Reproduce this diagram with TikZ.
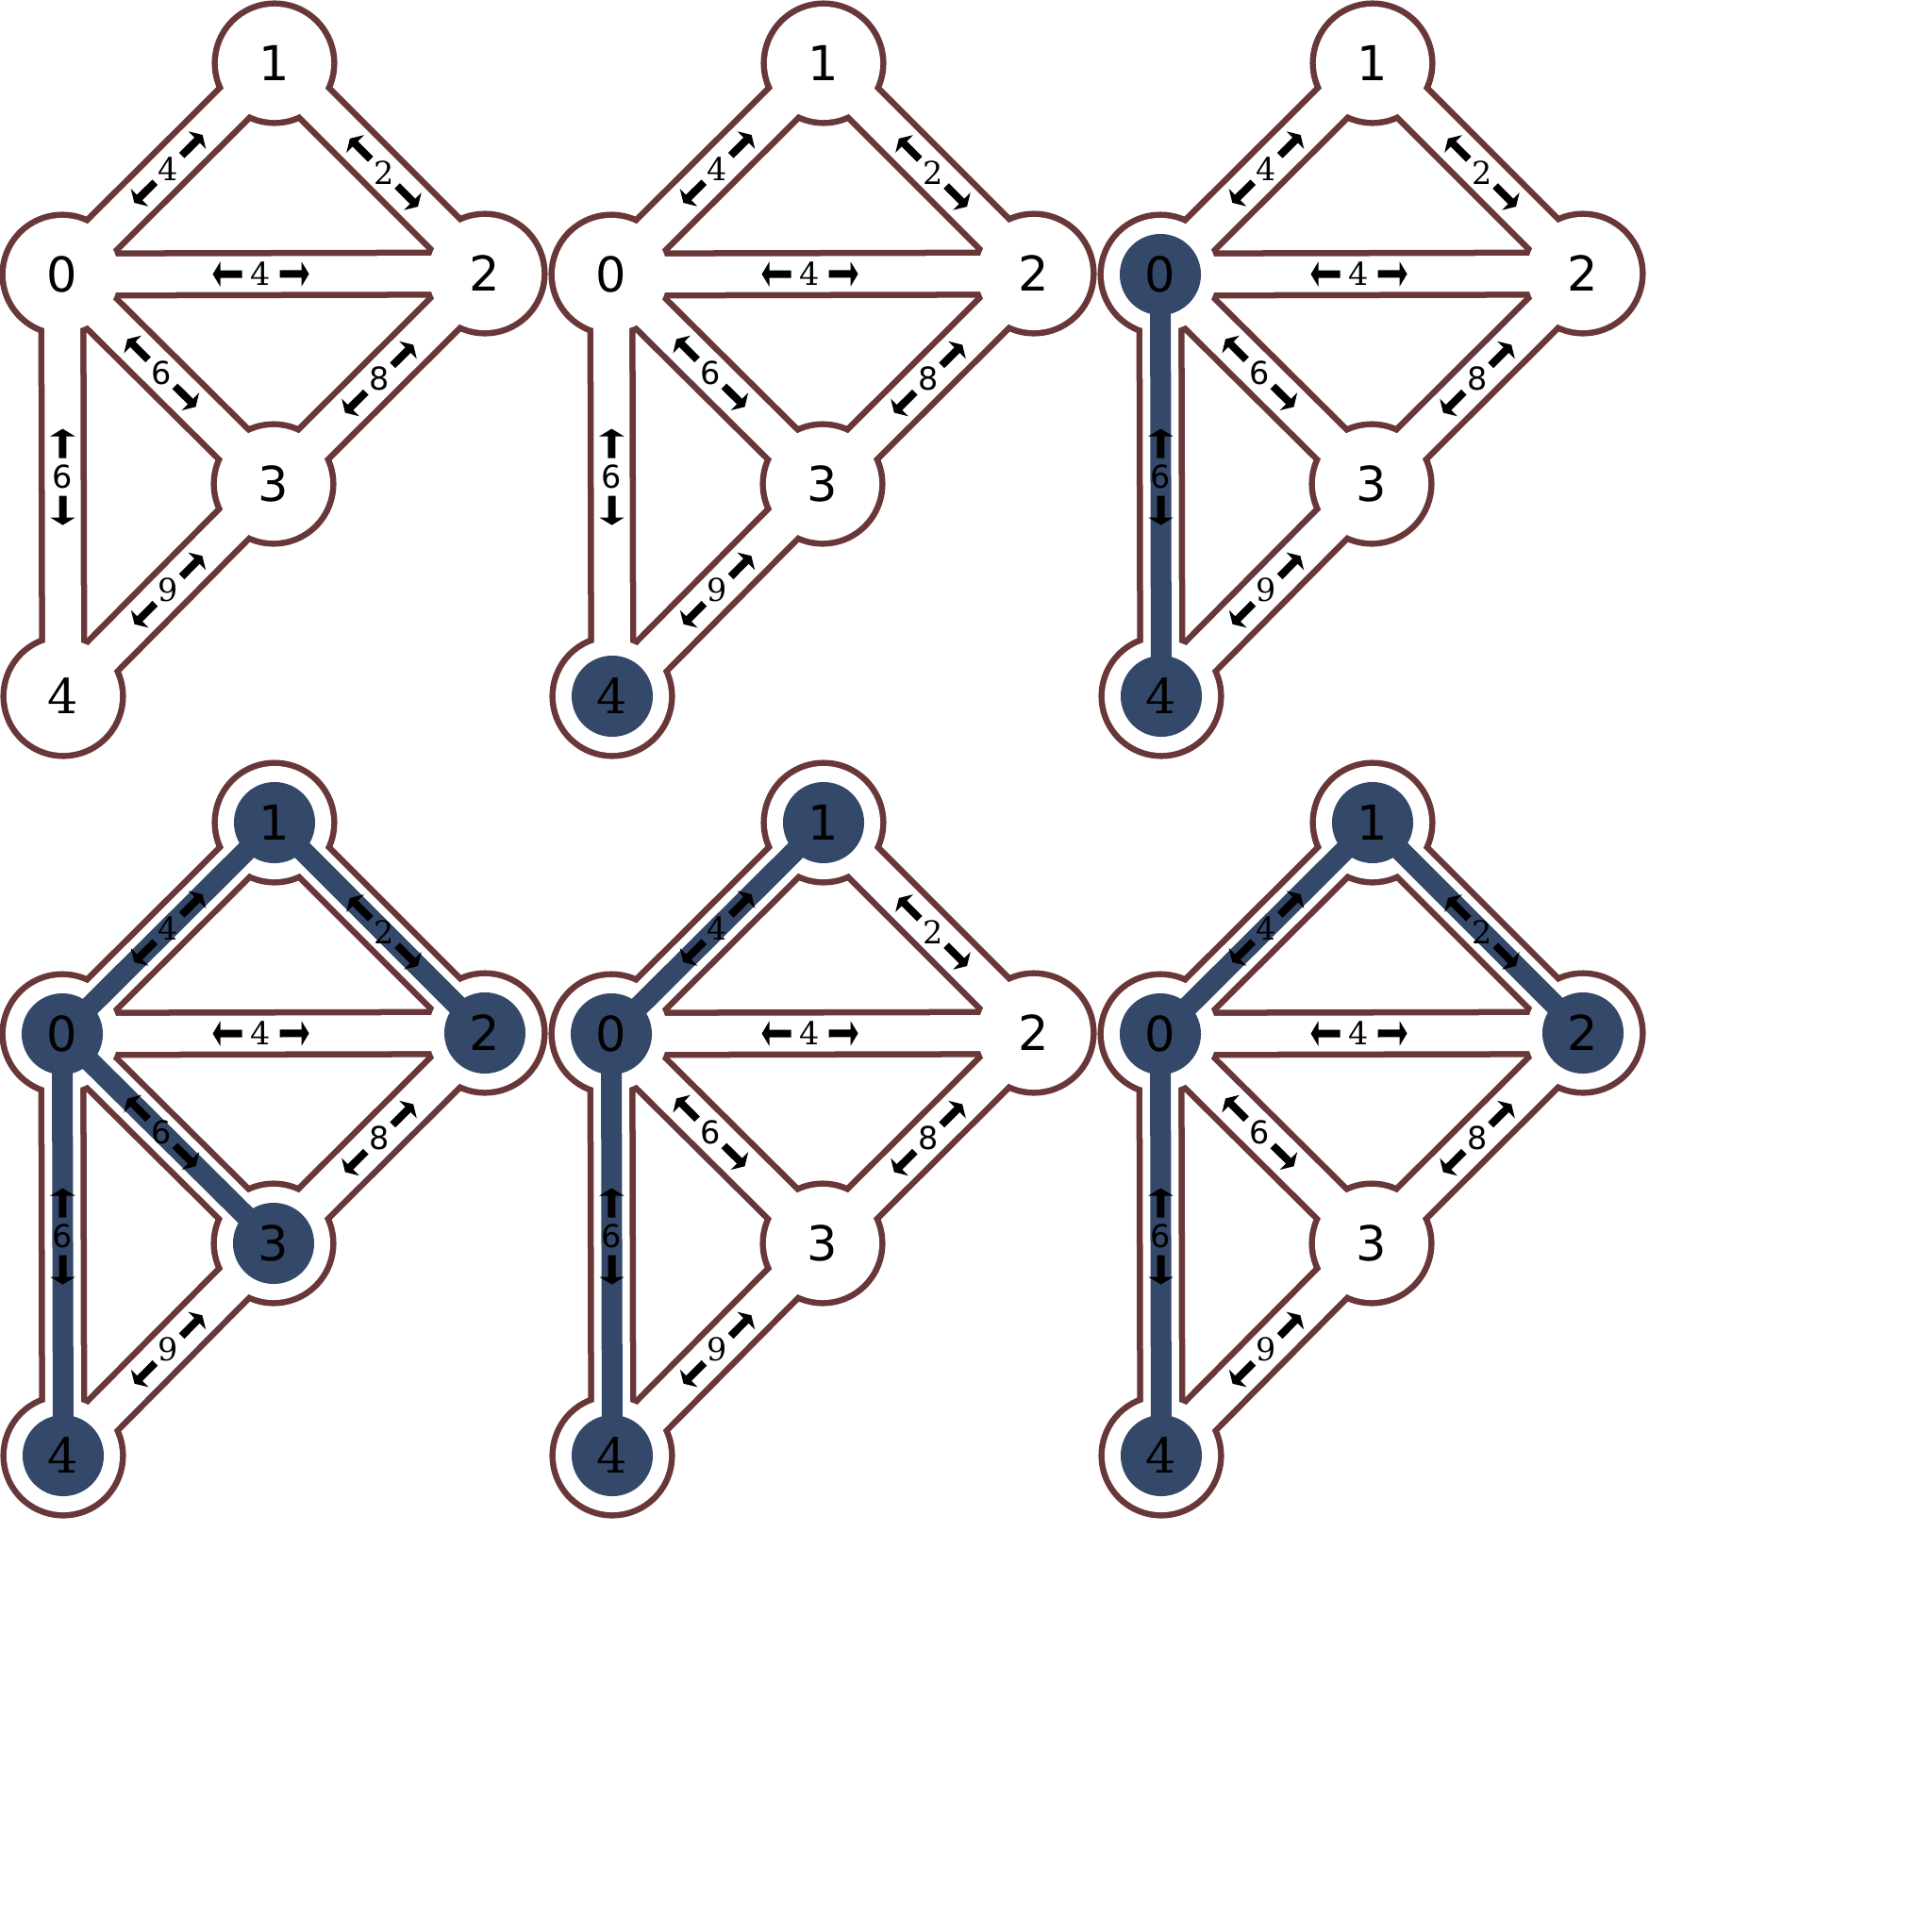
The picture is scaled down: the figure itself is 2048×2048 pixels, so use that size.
\documentclass[tikz,border=0pt]{standalone}
\usepackage{fontspec}
\newfontfamily\vsans{DejaVu Sans}
\newfontfamily\vserif{DejaVu Serif}
\usepackage{tikz}
\usetikzlibrary{arrows.meta,calc,backgrounds}

\definecolor{rimbrown}{HTML}{693737}
\definecolor{pickblue}{HTML}{34486A}

\tikzset{
  vertex/.style={font=\vsans\fontsize{14.5}{16}\selectfont, inner sep=0pt},
  vertexserif/.style={font=\vserif\fontsize{14.5}{16}\selectfont, inner sep=0pt},
  rim/.style={line width=0.51cm, rimbrown},
  lane/.style={line width=0.38cm, white},
  picked/.style={line width=0.22cm, pickblue},
  weight/.style={font=\vserif\fontsize{9.5}{11}\selectfont, inner sep=0pt},
  weightsans/.style={font=\vsans\fontsize{9.5}{11}\selectfont, inner sep=0pt},
  wtip/.style={line width=0.08cm, -{Triangle[length=0.08cm, width=0.26cm]}},
}

% weight label with a double arrow along the link: style, from, to, pos, text
\newcommand\weightmark[5]{%
  \node[#1] (#2#3w) at ($(#2)!#4!(#3)$) {#5};
  \draw[wtip] ($(#2#3w.center)!0.20cm!(#2)$) -- ($(#2#3w.center)!0.51cm!(#2)$);
  \draw[wtip] ($(#2#3w.center)!0.20cm!(#3)$) -- ($(#2#3w.center)!0.51cm!(#3)$);
}

% one copy of the graph: shift, prefix, picked vertices, picked links
\newcommand\graphpanel[4]{%
\begin{scope}[shift={#1}, name prefix=#2-]
  % vertices
  \node[vertex] (n0) at (66,291) {0};
  \node[vertex] (n1) at (291,67) {1};
  \node[vertex] (n2) at (514,290) {2};
  \node[vertex] (n3) at (290,513) {3};
  \node[vertexserif] (n4) at (67,738) {4};
  \begin{pgfonlayer}{background}
    % brown rim
    \foreach \a/\b in {n0/n1, n1/n2, n0/n2, n0/n3, n2/n3, n0/n4, n3/n4}
      \draw[rim] (\a.center) -- (\b.center);
    \foreach \v in {n0,n1,n2,n3,n4}
      \fill[rimbrown] (\v.center) circle (0.665cm);
    % white inside
    \foreach \a/\b in {n0/n1, n1/n2, n0/n2, n0/n3, n2/n3, n0/n4, n3/n4}
      \draw[lane] (\a.center) -- (\b.center);
    \foreach \v in {n0,n1,n2,n3,n4}
      \fill[white] (\v.center) circle (0.60cm);
    % picked part
    \if\relax\detokenize{#4}\relax\else
      \foreach \a/\b in {#4}
        \draw[picked] (\a.center) -- (\b.center);
    \fi
    \if\relax\detokenize{#3}\relax\else
      \foreach \v in {#3}
        \fill[pickblue] (\v.center) circle (0.43cm);
    \fi
  \end{pgfonlayer}
  % weights
  \weightmark{weight}{n0}{n1}{0.5}{4}
  \weightmark{weight}{n1}{n2}{0.52}{2}
  \weightmark{weight}{n0}{n2}{0.47}{4}
  \weightmark{weightsans}{n0}{n3}{0.47}{6}
  \weightmark{weightsans}{n2}{n3}{0.5}{8}
  \weightmark{weightsans}{n0}{n4}{0.48}{6}
  \weightmark{weight}{n4}{n3}{0.5}{9}
\end{scope}}

\begin{document}
\begin{tikzpicture}[x=0.01cm, y=-0.01cm]

\useasboundingbox (0,0) rectangle (2048,2048);

% top row
\graphpanel{(0,0)}{pa}{}{}
\graphpanel{(582,0)}{pb}{n4}{}
\graphpanel{(1164,0)}{pc}{n0,n4}{n0/n4}

% bottom row
\graphpanel{(0,805)}{pd}{n0,n1,n2,n3,n4}{n0/n4, n0/n1, n1/n2, n0/n3}
\graphpanel{(582,805)}{pe}{n0,n1,n4}{n0/n4, n0/n1}
\graphpanel{(1164,805)}{pf}{n0,n1,n2,n4}{n0/n4, n0/n1, n1/n2}

\end{tikzpicture}
\end{document}
